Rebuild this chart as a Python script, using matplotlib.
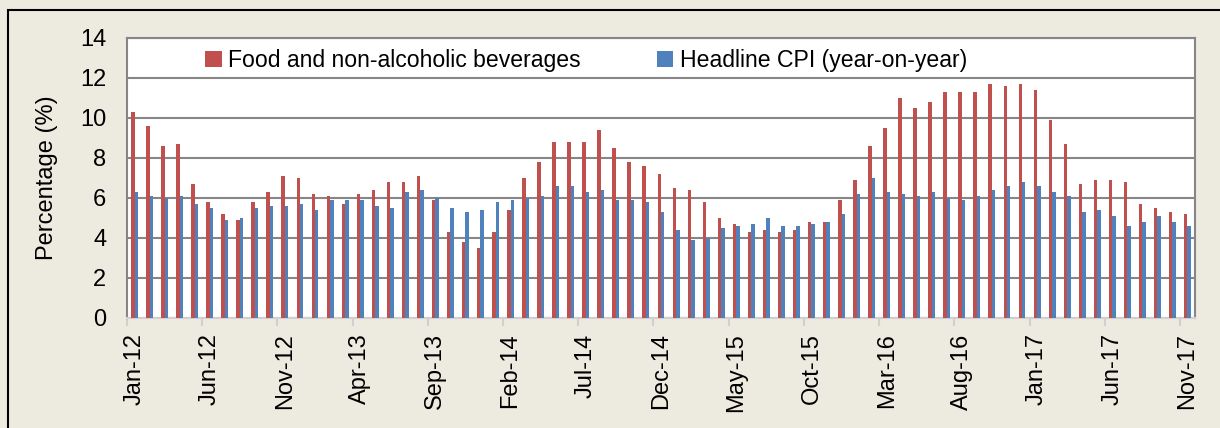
import matplotlib.pyplot as plt
import numpy as np
from matplotlib.patches import Rectangle

plt.rcParams['font.family'] = ['Liberation Sans', 'DejaVu Sans']

months = ['Jan', 'Feb', 'Mar', 'Apr', 'May', 'Jun',
          'Jul', 'Aug', 'Sep', 'Oct', 'Nov', 'Dec']
labels = ['%s-%02d' % (months[i % 12], 12 + i // 12) for i in range(71)]

food = [10.3, 9.6, 8.6, 8.7, 6.7, 5.8, 5.2, 4.9, 5.8, 6.3,
        7.1, 7.0, 6.2, 6.1, 5.7, 6.2, 6.4, 6.8, 6.8, 7.1,
        5.9, 4.3, 3.8, 3.5, 4.3, 5.4, 7.0, 7.8, 8.8, 8.8,
        8.8, 9.4, 8.5, 7.8, 7.6, 7.2, 6.5, 6.4, 5.8, 5.0,
        4.7, 4.3, 4.4, 4.3, 4.4, 4.8, 4.8, 5.9, 6.9, 8.6,
        9.5, 11.0, 10.5, 10.8, 11.3, 11.3, 11.3, 11.7, 11.6, 11.7,
        11.4, 9.9, 8.7, 6.7, 6.9, 6.9, 6.8, 5.7, 5.5, 5.3,
        5.2]
cpi = [6.3, 6.1, 6.0, 6.1, 5.7, 5.5, 4.9, 5.0, 5.5, 5.6,
       5.6, 5.7, 5.4, 5.9, 5.9, 5.9, 5.6, 5.5, 6.3, 6.4,
       6.0, 5.5, 5.3, 5.4, 5.8, 5.9, 6.0, 6.1, 6.6, 6.6,
       6.3, 6.4, 5.9, 5.9, 5.8, 5.3, 4.4, 3.9, 4.0, 4.5,
       4.6, 4.7, 5.0, 4.6, 4.6, 4.7, 4.8, 5.2, 6.2, 7.0,
       6.3, 6.2, 6.1, 6.3, 6.0, 5.9, 6.1, 6.4, 6.6, 6.8,
       6.6, 6.3, 6.1, 5.3, 5.4, 5.1, 4.6, 4.8, 5.1, 4.8,
       4.6]

red = '#C0504D'
blue = '#4F81BD'
bg = '#EDEAE0'

fig = plt.figure(figsize=(12.2, 4.28), dpi=100, facecolor=bg)
# outer frame (left and top edges visible)
fig.patches.append(Rectangle((8 / 1220, -0.2), 1.2, (418 / 428) + 0.2,
                             transform=fig.transFigure, fill=False,
                             edgecolor='black', lw=1.5))

ax = fig.add_axes([127 / 1220, 110 / 428, 1068 / 1220, 280 / 428])
ax.set_facecolor('white')

x = np.arange(len(food))
w = 0.23
ax.bar(x - w / 2, food, w, color=red, label='Food and non-alcoholic beverages', zorder=3)
ax.bar(x + w / 2, cpi, w, color=blue, label='Headline CPI (year-on-year)', zorder=3)

ax.set_xlim(-0.5, len(food) - 0.5)
ax.set_ylim(0, 14)
ax.set_yticks(np.arange(0, 15, 2))
ax.yaxis.grid(True, color='#868686', lw=1.5, zorder=0)
ax.tick_params(axis='y', labelsize=17, length=0, pad=15)

ax.set_xticks(x[::5])
ax.set_xticklabels(labels[::5], rotation=90, fontsize=17)
ax.set_xticks(np.arange(-0.5, len(food), 5), minor=True)
ax.tick_params(axis='x', which='major', length=0, pad=11)
ax.tick_params(axis='x', which='minor', length=6, color='#D0D0D0', width=1.5)

for s in ['left', 'right', 'top']:
    ax.spines[s].set_color('#868686')
    ax.spines[s].set_linewidth(1.5)
ax.spines['bottom'].set_color('#D0D0D0')
ax.spines['bottom'].set_linewidth(1.5)

ax.set_ylabel('Percentage (%)', fontsize=17, labelpad=16)

leg = ax.legend(loc='upper left', bbox_to_anchor=(0.054, 1.035), ncol=2,
                frameon=False, fontsize=16.6, handlelength=0.7,
                handleheight=0.7, handletextpad=0.3, columnspacing=3.3)

plt.savefig('out.png', dpi=100, facecolor=bg)
plt.close()
